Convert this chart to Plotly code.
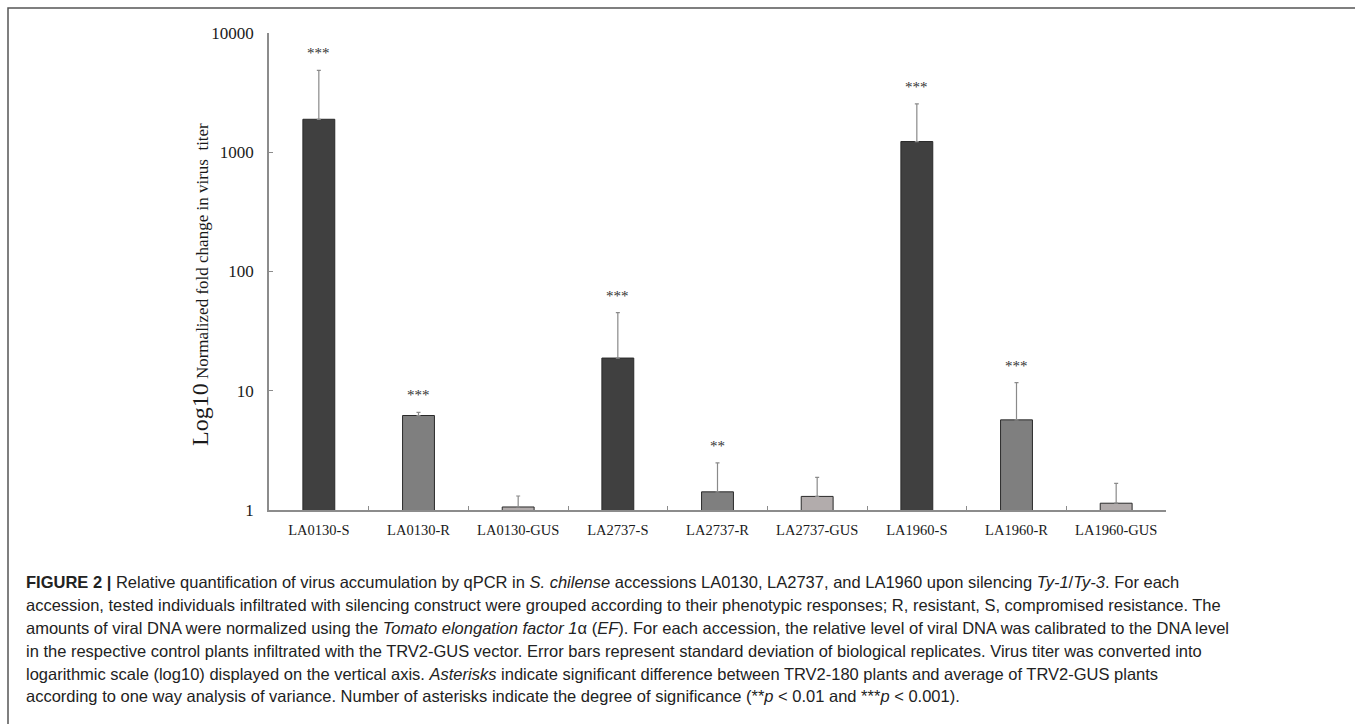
import plotly.graph_objects as go
import math

# ---------------- data ----------------
categories = ["LA0130-S", "LA0130-R", "LA0130-GUS",
              "LA2737-S", "LA2737-R", "LA2737-GUS",
              "LA1960-S", "LA1960-R", "LA1960-GUS"]
values = [1890, 6.2, 1.06, 18.8, 1.42, 1.30, 1230, 5.7, 1.14]
errors = [2970, 0.38, 0.25, 26.4, 1.06, 0.58, 1315, 6.0, 0.53]
significance = ["***", "***", "", "***", "**", "", "***", "***", ""]
groups = ["S", "R", "GUS", "S", "R", "GUS", "S", "R", "GUS"]
y_tick_values = [1, 10, 100, 1000, 10000]
y_tick_labels = ["1", "10", "100", "1000", "10000"]

group_colors = {"S": "#404040", "R": "#7f7f7f", "GUS": "#b2acac"}

caption_lines = [
    "<b>FIGURE 2 |</b> Relative quantification of virus accumulation by qPCR in <i>S. chilense</i> accessions LA0130, LA2737, and LA1960 upon silencing <i>Ty-1</i>/<i>Ty-3</i>. For each",
    "accession, tested individuals infiltrated with silencing construct were grouped according to their phenotypic responses; R, resistant, S, compromised resistance. The",
    "amounts of viral DNA were normalized using the <i>Tomato elongation factor 1</i>α (<i>EF</i>). For each accession, the relative level of viral DNA was calibrated to the DNA level",
    "in the respective control plants infiltrated with the TRV2-GUS vector. Error bars represent standard deviation of biological replicates. Virus titer was converted into",
    "logarithmic scale (log10) displayed on the vertical axis. <i>Asterisks</i> indicate significant difference between TRV2-180 plants and average of TRV2-GUS plants",
    "according to one way analysis of variance. Number of asterisks indicate the degree of significance (**<i>p</i> &lt; 0.01 and ***<i>p</i> &lt; 0.001).",
]

# ---------------- layout geometry (pixels) ----------------
W, H = 1355, 724
ML, MR, MT, MB = 269, 189, 33, 214
PW = W - ML - MR
PH = H - MT - MB


def px_x(px):
    return (px - ML) / PW


def px_y(py):
    return (H - MB - py) / PH


serif = "Liberation Serif, Times New Roman, serif"
sans = "Liberation Sans, Arial, Helvetica, sans-serif"

fig = go.Figure()
fig.add_trace(go.Bar(
    x=categories,
    y=values,
    width=0.32,
    marker=dict(color=[group_colors[g] for g in groups],
                line=dict(color="#2a2a2a", width=1)),
    error_y=dict(type="data", array=errors, symmetric=False,
                 arrayminus=[0] * len(errors),
                 color="#8a8a8a", thickness=1.2, width=2),
    showlegend=False,
    hoverinfo="x+y",
))

annotations = []
for c, v, e, s in zip(categories, values, errors, significance):
    if s:
        annotations.append(dict(
            x=c, y=math.log10(v + e), xref="x", yref="y",
            text=s, showarrow=False, yanchor="middle", yshift=17,
            font=dict(family=serif, size=15, color="#333333"),
        ))

# y-axis title (rich text)
annotations.append(dict(
    x=px_x(200), y=px_y(285), xref="paper", yref="paper",
    text="<span style='font-size:24px'>Log10</span> Normalized fold change in virus\u00a0 titer",
    textangle=-90, showarrow=False, xanchor="center", yanchor="middle",
    font=dict(family=serif, size=17, color="#1a1a1a"),
))

# caption
line_y0 = 582
line_dy = 22.9
for i, line in enumerate(caption_lines):
    annotations.append(dict(
        x=px_x(24), y=px_y(line_y0 + i * line_dy), xref="paper", yref="paper",
        text=line, showarrow=False, xanchor="left", yanchor="middle",
        align="left",
        font=dict(family=sans, size=16.5, color="#222222"),
    ))

fig.update_layout(
    width=W, height=H,
    margin=dict(l=ML, r=MR, t=MT, b=MB, pad=0),
    paper_bgcolor="white", plot_bgcolor="white",
    annotations=annotations,
    shapes=[dict(
        type="rect", xref="paper", yref="paper",
        x0=px_x(8), x1=px_x(1420), y0=px_y(800), y1=px_y(8),
        line=dict(color="#555555", width=1.5), fillcolor="rgba(0,0,0,0)",
        layer="below",
    )],
)

fig.update_xaxes(
    type="category",
    showline=True, linecolor="#8c8c8c", linewidth=1.5,
    ticks="inside", ticklen=4, tickcolor="#8c8c8c", tickwidth=1,
    tickson="boundaries",
    tickfont=dict(family=serif, size=14.5, color="#1a1a1a"),
    ticklabelstandoff=6,
    showgrid=False, zeroline=False,
)
fig.update_yaxes(
    type="log", range=[0, 4],
    tickmode="array", tickvals=y_tick_values, ticktext=y_tick_labels,
    showline=True, linecolor="#8c8c8c", linewidth=1.5,
    ticks="inside", ticklen=4, tickcolor="#8c8c8c", tickwidth=1,
    tickfont=dict(family=serif, size=17, color="#1a1a1a"),
    ticklabelstandoff=10,
    showgrid=False, zeroline=False,
)

fig.write_html(
    "out.html",
    config={"displayModeBar": False},
    post_script="document.body.style.margin='0';document.body.style.overflow='hidden';",
)
